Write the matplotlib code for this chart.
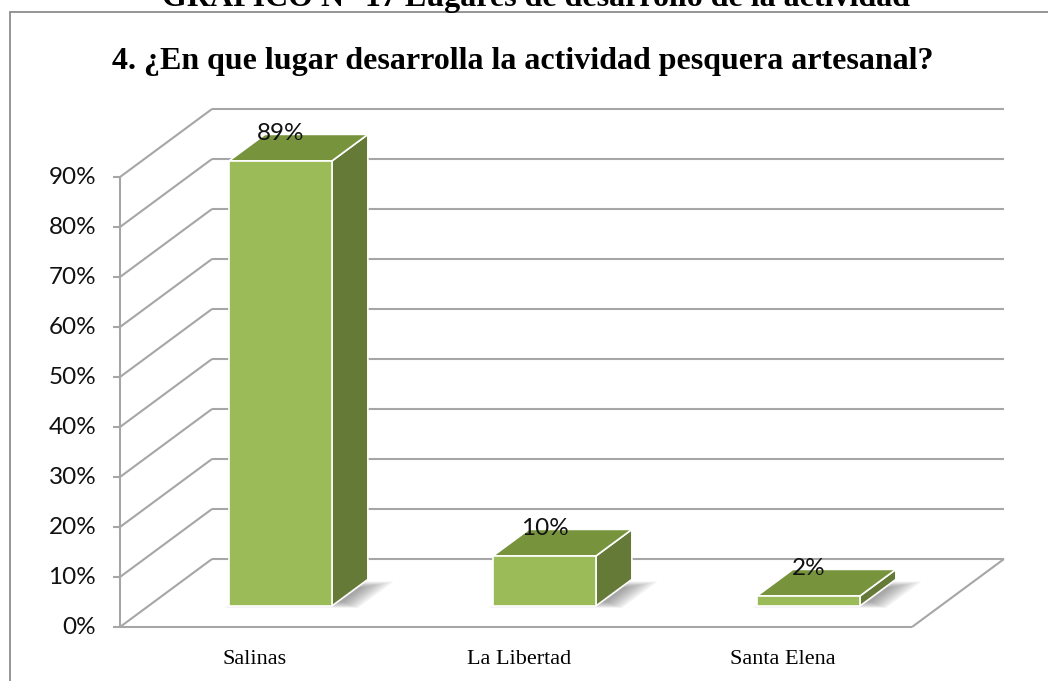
import matplotlib.pyplot as plt
from matplotlib.patches import Polygon, Rectangle

categories = ["Salinas", "La Libertad", "Santa Elena"]
values = [89, 10, 2]
value_labels = ["89%", "10%", "2%"]
yticks = list(range(0, 100, 10))

title = "4. ¿En que lugar desarrolla la actividad pesquera artesanal?"
caption = "GRAFICO N° 17 Lugares de desarrollo de la actividad"

W, H = 1048, 681
fig = plt.figure(figsize=(W / 100, H / 100), dpi=100)
ax = fig.add_axes([0, 0, 1, 1])
# one category slot = 264 px, 1 % = 5 px
ax.set_xlim(-0.5 - 120 / 264, -0.5 + (W - 120) / 264)
ax.set_ylim(-(H - 627) / 5, 627 / 5)
ax.axis("off")

# oblique shift of the back wall (depth d = 1)
OX, OY = 92 / 264, 68 / 5


def proj(x, y, d):
    return x + OX * d, y + OY * d


grid_kw = dict(color="#a6a6a6", lw=1.5, solid_capstyle="butt", zorder=1)
x0, x1 = -0.5, len(categories) - 0.5
sans = ["Lato", "DejaVu Sans"]
serif = ["Liberation Serif", "DejaVu Serif"]

# side wall diagonals, back wall gridlines and ticks
for v in yticks:
    fx, fy = proj(x0, v, 0)
    bx, by = proj(x0, v, 1)
    ex, ey = proj(x1, v, 1)
    ax.plot([fx, bx], [fy, by], **grid_kw)
    ax.plot([bx, ex], [by, ey], **grid_kw)
    ax.plot([fx - 0.027, fx], [fy, fy], **grid_kw)
    ax.text(fx - 0.09, v, f"{v}%", ha="right", va="center",
            fontsize=17.5, family=sans, color="#111111")

# vertical axis and floor outline
ax.plot([x0, x0], [0, yticks[-1]], **grid_kw)
ax.plot([x0, x1], [0, 0], **grid_kw)
fx, fy = proj(x1, 0, 0)
bx, by = proj(x1, 0, 1)
ax.plot([fx, bx], [fy, by], **grid_kw)

front_c, top_c, side_c = "#9bbb59", "#77933c", "#667a37"
bw = 0.39
d0, d1 = 0.31, 0.70
edge = dict(ec="white", lw=1.2, joinstyle="miter")

for i, (cat, v, lab) in enumerate(zip(categories, values, value_labels)):
    xl, xr = i - bw / 2, i + bw / 2

    # soft floor shadow
    for k in range(8):
        g = 0.012 * (8 - k)
        pts = [proj(xl - 0.02 + g, 0, d0 - 0.04 + g),
               proj(xr + 0.12 - g, 0, d0 - 0.04 + g),
               proj(xr + 0.12 - g, 0, d1 - 0.02 - g),
               proj(xl + 0.05 + g, 0, d1 - 0.02 - g)]
        ax.add_patch(Polygon(pts, closed=True, fc="#404040", ec="none",
                             alpha=0.07, zorder=2))

    side = [proj(xr, 0, d0), proj(xr, 0, d1), proj(xr, v, d1), proj(xr, v, d0)]
    top = [proj(xl, v, d0), proj(xr, v, d0), proj(xr, v, d1), proj(xl, v, d1)]
    front = [proj(xl, 0, d0), proj(xr, 0, d0), proj(xr, v, d0), proj(xl, v, d0)]
    ax.add_patch(Polygon(side, closed=True, fc=side_c, zorder=3, **edge))
    ax.add_patch(Polygon(top, closed=True, fc=top_c, zorder=3, **edge))
    ax.add_patch(Polygon(front, closed=True, fc=front_c, zorder=4, **edge))

    lx, ly = proj(i, v, d0)
    ax.text(lx, v + OY * 0.72, lab, ha="center", va="center", fontsize=17.5,
            family=sans, color="#111111", zorder=5)

    ax.text(i + 0.01, -6.4, cat, ha="center", va="center", fontsize=16,
            family=serif, color="black")

# chart title and document caption
fig.text(523 / W, 1 - 62 / H, title, ha="center", va="center",
         fontsize=23, fontweight="bold", family=serif)
fig.text(536 / W, 1 - 6 / H, caption, ha="center", va="baseline",
         fontsize=23, fontweight="bold", family=serif)

# chart frame
fig.patches.append(Rectangle((10 / W, -0.1), 1.2, 1 - 12 / H + 0.1,
                             transform=fig.transFigure, fill=False,
                             ec="#8c8c8c", lw=1.3, zorder=0))

fig.savefig("out.png", dpi=100)
